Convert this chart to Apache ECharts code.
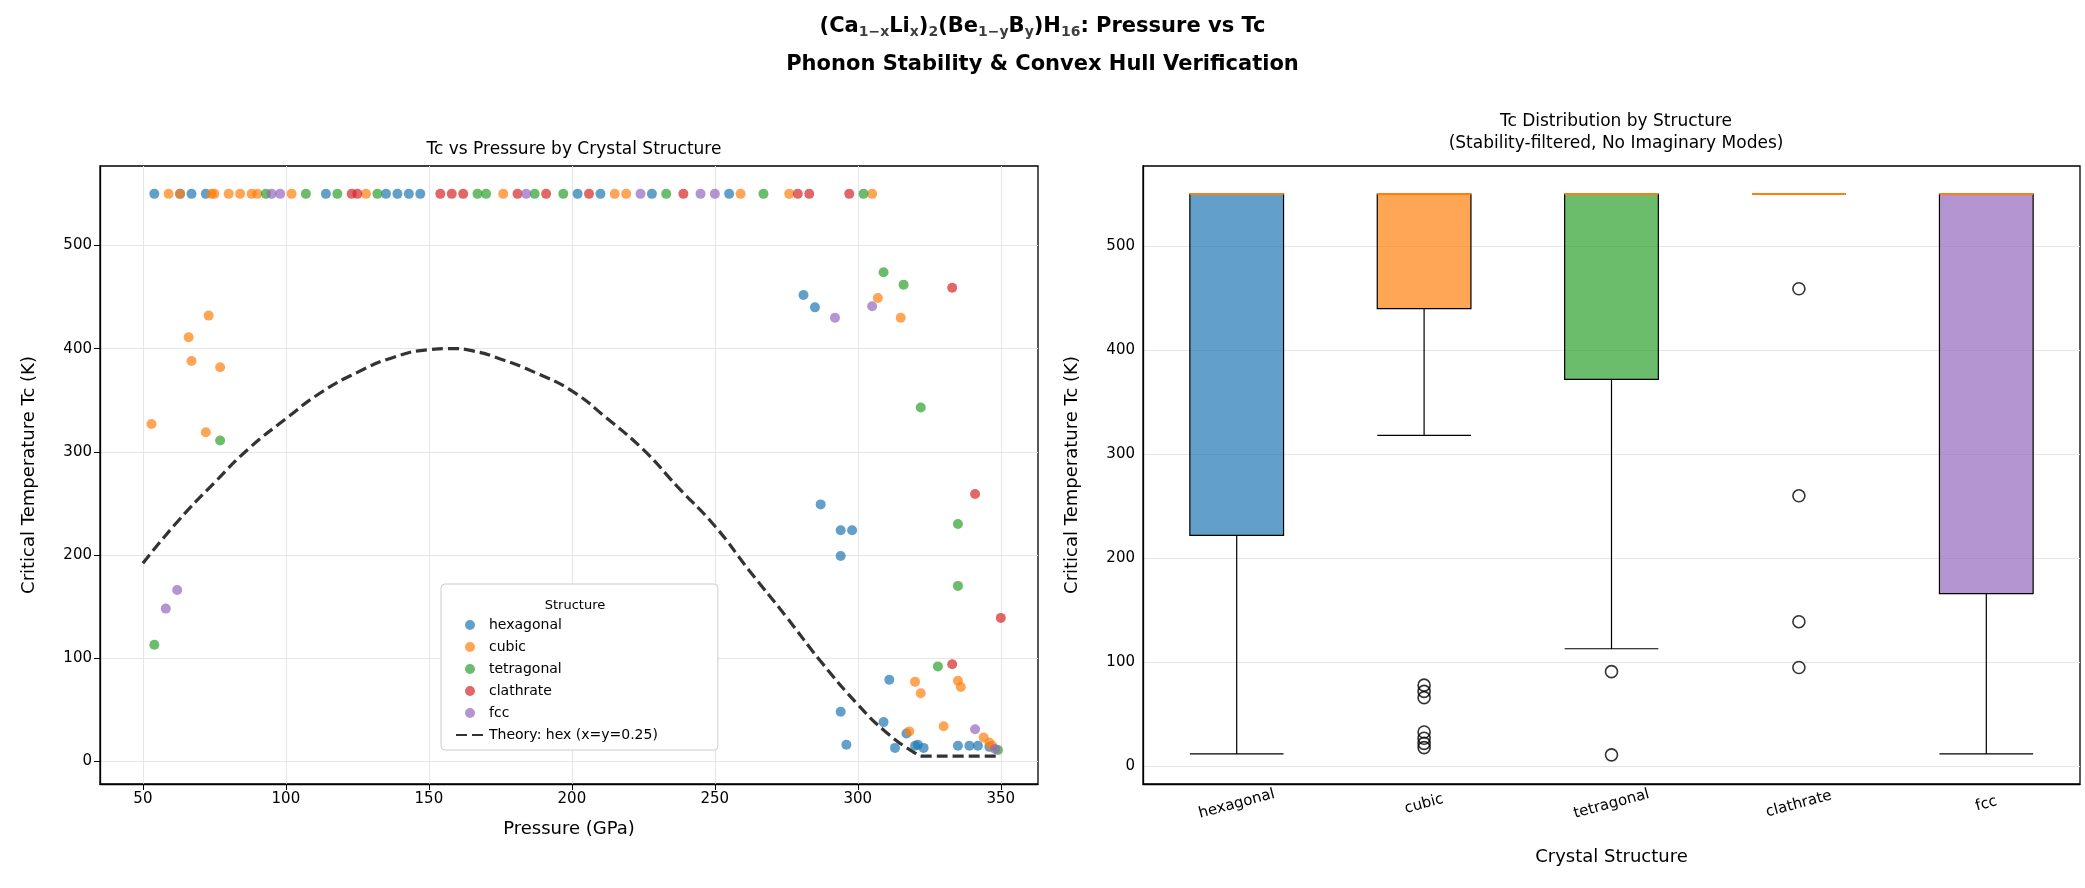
<!DOCTYPE html>
<html><head><meta charset="utf-8">
<script src="https://cdn.jsdelivr.net/npm/echarts@6/dist/echarts.min.js"></script>
<style>html,body{margin:0;padding:0;background:#fff}#c{width:2085px;height:888px}</style>
</head><body><div id="c"></div>
<script>
// scatter points [pressure GPa, Tc K]
const hexagonal = [[54,550],[63,550],[67,550],[72,550],[114,550],[135,550],[139,550],[143,550],[147,550],[202,550],[210,550],[228,550],[255,550],
  [281,452],[285,440],[287,249],[294,224],[298,224],[294,199],[311,79],[294,48],[309,38],[296,16],[313,13],[317,27],[320,15],[321,16],[323,13],[335,15],[339,15],[342,15],[346,14]];
const cubic = [[59,550],[63,550],[74,550],[75,550],[80,550],[84,550],[88,550],[90,550],[102,550],[128,550],[176,550],[215,550],[219,550],[259,550],[276,550],[305,550],
  [53,327],[66,411],[67,388],[77,382],[72,319],[73,432],[307,449],[315,430],[320,77],[322,66],[335,78],[336,72],[330,34],[318,29],[344,23],[346,18],[347,15]];
const tetragonal = [[93,550],[107,550],[118,550],[132,550],[167,550],[170,550],[187,550],[197,550],[233,550],[267,550],[302,550],
  [77,311],[54,113],[309,474],[316,462],[322,343],[335,230],[335,170],[328,92],[349,11]];
const clathrate = [[123,550],[125,550],[154,550],[158,550],[162,550],[181,550],[191,550],[206,550],[239,550],[279,550],[283,550],[297,550],
  [333,459],[341,259],[350,139],[333,94]];
const fcc = [[95,550],[98,550],[184,550],[224,550],[245,550],[250,550],
  [62,166],[58,148],[292,430],[305,441],[341,31],[348,12]];
// theory curve
const theory = [[50,192],[62,232],[75,270],[87,303],[100,332],[112,357],[125,377],[137,391],[150,399],[158,400],[165,398],[175,390],[187,377],[200,359],[212,333],[225,302],[237,266],[250,228],[262,185],[275,140],[287,97],[300,55],[310,28],[320,8],[323,5],[335,5],[350,5]];

// box plot [min, Q1, median, Q3, max]
const structures = ['hexagonal','cubic','tetragonal','clathrate','fcc'];
const boxes = [[12,222,550,550,550],[318,440,550,550,550],[113,372,550,550,550],[550,550,550,550,550],[12,166,550,550,550]];
const outliers = [[1,78],[1,72],[1,66],[1,33],[1,27],[1,22],[1,18],[2,91],[2,11],[3,459],[3,260],[3,139],[3,95]];

const colors = ['#1f77b4','#ff7f0e','#2ca02c','#d62728','#9467bd'];
const fills = ['rgba(31,119,180,0.7)','rgba(255,127,14,0.7)','rgba(44,160,44,0.7)','rgba(214,39,40,0.7)','rgba(148,103,189,0.7)'];
const font = 'DejaVu Sans';
const gridVals = [0,100,200,300,400,500];
const xVals = [50,100,150,200,250,300,350];

const chart = echarts.init(document.getElementById('c'));
const axLine = { show: true, onZero: false, lineStyle: { color: '#000', width: 1.3 } };
const sub = { fontSize: 14, fontWeight: 'bold', fontFamily: font, verticalAlign: 'bottom', padding: [10, 0, 0, 0] };

const scatterSeries = [hexagonal, cubic, tetragonal, clathrate, fcc].map((d, i) => ({
  name: structures[i], type: 'scatter', xAxisIndex: 0, yAxisIndex: 0, data: d,
  symbolSize: 10, itemStyle: { color: colors[i], opacity: 0.7 }, z: 3
}));

chart.setOption({
  animation: false,
  textStyle: { fontFamily: font },
  title: [
    { text: '{m|(Ca}{s|1−x}{m|Li}{s|x}{m|)}{s|2}{m|(Be}{s|1−y}{m|B}{s|y}{m|)H}{s|16}{m|: Pressure vs Tc}',
      left: 'center', top: 10, textStyle: { rich: { m: { fontSize: 21, fontWeight: 'bold', fontFamily: font, color: '#000' }, s: sub } } },
    { text: 'Phonon Stability & Convex Hull Verification', left: 'center', top: 49,
      textStyle: { fontSize: 21, fontWeight: 'bold', fontFamily: font, color: '#000' } },
    { text: 'Tc vs Pressure by Crystal Structure', left: 569, top: 136, textAlign: 'center',
      textStyle: { fontSize: 17, fontWeight: 'normal', fontFamily: font, color: '#000' } },
    { text: 'Tc Distribution by Structure\n(Stability-filtered, No Imaginary Modes)', left: 1611, top: 106, textAlign: 'center',
      textStyle: { fontSize: 17, fontWeight: 'normal', fontFamily: font, color: '#000', lineHeight: 22 } },
    { text: 'Structure', left: 570, top: 594, textAlign: 'center',
      textStyle: { fontSize: 13, fontWeight: 'normal', fontFamily: font, color: '#000' } }
  ],
  legend: {
    data: structures.concat([{ name: 'Theory: hex (x=y=0.25)', itemStyle: { opacity: 0 } }]),
    orient: 'vertical', left: 441, top: 584, width: 258,
    padding: [34, 60, 8, 14], itemGap: 8, itemWidth: 28, itemHeight: 10,
    backgroundColor: '#fff', borderColor: '#ccc', borderWidth: 1, borderRadius: 4,
    textStyle: { fontSize: 14, fontFamily: font, color: '#000' }
  },
  grid: [
    { left: 100, top: 166, width: 938, height: 618, show: true, borderColor: '#000', borderWidth: 1.3, backgroundColor: 'transparent' },
    { left: 1143, top: 166, width: 937, height: 618, show: true, borderColor: '#000', borderWidth: 1.3, backgroundColor: 'transparent' }
  ],
  xAxis: [
    { type: 'value', gridIndex: 0, min: 35, max: 363, interval: 50,
      axisLabel: { customValues: xVals, fontSize: 15, color: '#000', fontFamily: font },
      axisTick: { customValues: xVals, lineStyle: { color: '#000' }, length: 6 },
      splitLine: { show: false }, axisLine: axLine,
      name: 'Pressure (GPa)', nameLocation: 'middle', nameGap: 36, nameTextStyle: { fontSize: 18, color: '#000' } },
    { type: 'category', gridIndex: 1, data: structures,
      axisLabel: { rotate: 15, fontSize: 15, color: '#000', fontFamily: font, margin: 20, align: 'center', verticalAlign: 'middle' },
      axisTick: { alignWithLabel: true, lineStyle: { color: '#000' }, length: 6 },
      axisLine: axLine,
      name: 'Crystal Structure', nameLocation: 'middle', nameGap: 64, nameTextStyle: { fontSize: 18, color: '#000' } }
  ],
  yAxis: [
    { type: 'value', gridIndex: 0, min: -22, max: 577,
      axisLabel: { customValues: gridVals, fontSize: 15, color: '#000', fontFamily: font },
      axisTick: { customValues: gridVals, lineStyle: { color: '#000' }, length: 6 },
      splitLine: { show: false }, axisLine: axLine,
      name: 'Critical Temperature Tc (K)', nameLocation: 'middle', nameGap: 62, nameTextStyle: { fontSize: 18, color: '#000' } },
    { type: 'value', gridIndex: 1, min: -17, max: 577,
      axisLabel: { customValues: gridVals, fontSize: 15, color: '#000', fontFamily: font },
      axisTick: { customValues: gridVals, lineStyle: { color: '#000' }, length: 6 },
      splitLine: { show: false }, axisLine: axLine,
      name: 'Critical Temperature Tc (K)', nameLocation: 'middle', nameGap: 62, nameTextStyle: { fontSize: 18, color: '#000' } }
  ],
  series: [
    { type: 'line', xAxisIndex: 0, yAxisIndex: 0, data: [], silent: true, z: 0,
      markLine: { silent: true, symbol: 'none', label: { show: false }, z: 0,
        lineStyle: { color: '#e6e6e6', type: 'solid', width: 1 },
        data: gridVals.map(v => ({ yAxis: v })).concat(xVals.map(v => ({ xAxis: v }))) } },
    { type: 'line', xAxisIndex: 1, yAxisIndex: 1, data: [], silent: true, z: 0,
      markLine: { silent: true, symbol: 'none', label: { show: false }, z: 0,
        lineStyle: { color: '#e6e6e6', type: 'solid', width: 1 },
        data: gridVals.map(v => ({ yAxis: v })) } },
    ...scatterSeries,
    { name: 'Theory: hex (x=y=0.25)', type: 'line', xAxisIndex: 0, yAxisIndex: 0, data: theory,
      smooth: true, symbol: 'none', itemStyle: { color: '#333' },
      lineStyle: { color: '#333', width: 3.2, type: [11, 5] }, z: 4 },
    { type: 'boxplot', xAxisIndex: 1, yAxisIndex: 1, boxWidth: ['50%', '50%'],
      data: boxes.map((b, i) => ({ value: b, itemStyle: { color: fills[i], borderColor: '#000', borderWidth: 1.2 } })), z: 3 },
    { type: 'custom', xAxisIndex: 1, yAxisIndex: 1, data: boxes.map((b, i) => [i, b[2]]), z: 5,
      renderItem: (params, api) => {
        const p = api.coord([api.value(0), api.value(1)]);
        const w = api.size([1, 0])[0] * 0.25;
        return { type: 'line', shape: { x1: p[0] - w, y1: p[1], x2: p[0] + w, y2: p[1] },
          style: { stroke: '#ff7f0e', lineWidth: 2 } };
      } },
    { type: 'scatter', xAxisIndex: 1, yAxisIndex: 1, data: outliers, symbolSize: 12,
      itemStyle: { color: 'rgba(0,0,0,0)', borderColor: '#000', borderWidth: 1.6 }, z: 6 }
  ]
});
</script></body></html>
